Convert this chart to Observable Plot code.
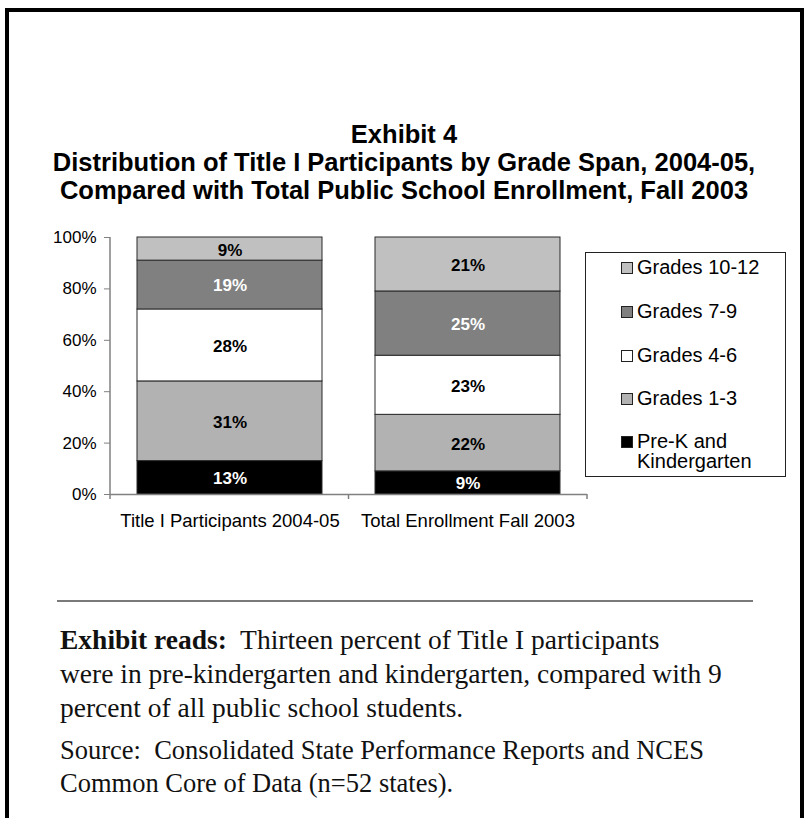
<!DOCTYPE html>
<html>
<head>
<meta charset="utf-8">
<script src="https://cdn.jsdelivr.net/npm/d3@7"></script>
<script src="https://cdn.jsdelivr.net/npm/@observablehq/plot@0.6"></script>
<style>
  html, body { margin: 0; padding: 0; background: #fff; }
  #page { position: relative; width: 808px; height: 818px; overflow: hidden; background: #fff; }
  #frame { position: absolute; left: 5px; top: 8px; width: 791px; height: 830px;
           border-left: 4px solid #000; border-top: 4px solid #000; border-right: 4px solid #000; }
  #title { position: absolute; left: 0; width: 808px; top: 120px; text-align: center;
           font-family: "Liberation Sans", Arial, sans-serif; font-weight: bold; font-size: 25.5px; line-height: 28px; color: #000; }
  #chart { position: absolute; left: 0; top: 220px; }
  #legend { position: absolute; left: 585px; top: 252px; width: 199px; height: 223px; border: 1px solid #222; background: #fff;
            font-family: "Liberation Sans", Arial, sans-serif; font-size: 20px; color: #000; }
  .item { position: absolute; left: 35px; display: flex; align-items: flex-start; line-height: 20px; }
  .sw { width: 10px; height: 10px; border: 1px solid #222; margin-right: 4px; margin-top: 5px; flex: none; }
  #rule { position: absolute; left: 57px; top: 600px; width: 696px; height: 0; border-top: 2px solid #7a7a7a; }
  .note { position: absolute; left: 60px; font-family: "Liberation Serif", "Times New Roman", serif; font-size: 27px;
          line-height: 34px; color: #111; white-space: nowrap; }
</style>
</head>
<body>
<div id="page">
  <div id="frame"></div>
  <div id="title"></div>
  <div id="chart"></div>
  <div id="legend"></div>
  <div id="rule"></div>
  <div class="note" id="reads" style="top:623px; font-size:27.5px"></div>
  <div class="note" id="source" style="top:734px; line-height:33px; font-size:26.5px"></div>
</div>
<script>
// ---- data ----
const titleLines = [
  "Exhibit 4",
  "Distribution of Title I Participants by Grade Span, 2004-05,",
  "Compared with Total Public School Enrollment, Fall 2003"
];
const categories = ["Title I Participants 2004-05", "Total Enrollment Fall 2003"];
// bottom to top
const grades = ["Pre-K and Kindergarten", "Grades 1-3", "Grades 4-6", "Grades 7-9", "Grades 10-12"];
const titleIValues = [13, 31, 28, 19, 9];
const enrollmentValues = [9, 22, 23, 25, 21];
const yTicks = [0, 20, 40, 60, 80, 100];
const readsLines = [
  ["Exhibit reads:", "  Thirteen percent of Title I participants"],
  ["", "were in pre-kindergarten and kindergarten, compared with 9"],
  ["", "percent of all public school students."]
];
const sourceLines = [
  "Source:  Consolidated State Performance Reports and NCES",
  "Common Core of Data (n=52 states)."
];

// ---- styling ----
const gradeColors = ["#000000", "#b2b2b2", "#ffffff", "#808080", "#c0c0c0"];
const whiteLabelGrades = new Set(["Pre-K and Kindergarten", "Grades 7-9"]);
const legendOrder = grades.slice().reverse();
const legendLabels = {"Pre-K and Kindergarten": ["Pre-K and", "Kindergarten"]};
const legendRowTops = [4, 48, 92, 135, 178];

// ---- table ----
const rows = [];
const seriesByCategory = [titleIValues, enrollmentValues];
categories.forEach((c, i) => {
  grades.forEach((g, j) => rows.push({category: c, grade: g, value: seriesByCategory[i][j]}));
});

// ---- title ----
document.getElementById("title").innerHTML = titleLines.map(t => `<div>${t}</div>`).join("");

// ---- chart ----
const font = '"Liberation Sans", Arial, sans-serif';
const plot = Plot.plot({
  width: 600,
  height: 320,
  marginLeft: 110,
  marginRight: 13,
  marginTop: 17,
  marginBottom: 46,
  style: {fontFamily: font, fontSize: "17px", color: "#000", background: "transparent"},
  x: {domain: categories, paddingInner: 0.224, paddingOuter: 0.112, label: null},
  y: {domain: [0, 100], label: null},
  color: {domain: grades, range: gradeColors},
  marks: [
    Plot.barY(rows, {x: "category", y: "value", fill: "grade", stroke: "#2a2a2a", strokeWidth: 1}),
    Plot.text(rows, Plot.stackY({x: "category", y: "value",
      text: d => whiteLabelGrades.has(d.grade) ? "" : d.value + "%",
      fill: "#000", fontWeight: "bold", fontSize: 17, dy: 1})),
    Plot.text(rows, Plot.stackY({x: "category", y: "value",
      text: d => whiteLabelGrades.has(d.grade) ? d.value + "%" : "",
      fill: "#fff", fontWeight: "bold", fontSize: 17, dy: 1})),
    Plot.ruleY([0], {stroke: "#808080", strokeWidth: 1.5}),
    Plot.axisY({ticks: yTicks, tickSize: 6, tickPadding: 8, stroke: "#808080",
      tickFormat: d => d + "%", fontSize: 17, label: null}),
    Plot.axisX({tickSize: 0, tickPadding: 19, fontSize: 18.5, label: null})
  ]
});

// axis lines and category-boundary ticks from the plot's own scales
const xs = plot.scale("x"), ys = plot.scale("y");
const [x0, x1] = xs.range;
const [yb, yt] = ys.range;
const g = d3.select(plot).append("g").attr("stroke", "#808080").attr("stroke-width", 1.5);
g.append("line").attr("x1", x0).attr("x2", x0).attr("y1", Math.min(yb, yt)).attr("y2", Math.max(yb, yt));
const n = categories.length;
for (let i = 0; i <= n; i++) {
  const x = x0 + (x1 - x0) * i / n;
  g.append("line").attr("x1", x).attr("x2", x).attr("y1", Math.max(yb, yt)).attr("y2", Math.max(yb, yt) + 5);
}
document.getElementById("chart").appendChild(plot);

// ---- legend ----
const legend = document.getElementById("legend");
legendOrder.forEach((gr, i) => {
  const item = document.createElement("div");
  item.className = "item";
  item.style.top = legendRowTops[i] + "px";
  const sw = document.createElement("div");
  sw.className = "sw";
  sw.style.background = gradeColors[grades.indexOf(gr)];
  const label = document.createElement("div");
  label.innerHTML = (legendLabels[gr] || [gr]).join("<br>");
  item.appendChild(sw);
  item.appendChild(label);
  legend.appendChild(item);
});

// ---- notes ----
document.getElementById("reads").innerHTML = readsLines.map(([b, t]) =>
  `<div>${b ? `<b>${b}</b>` : ""}${t.replace(/  /g, "&nbsp; ")}</div>`).join("");
document.getElementById("source").innerHTML = sourceLines.map(t => `<div>${t.replace(/  /g, "&nbsp; ")}</div>`).join("");
</script>
</body>
</html>
